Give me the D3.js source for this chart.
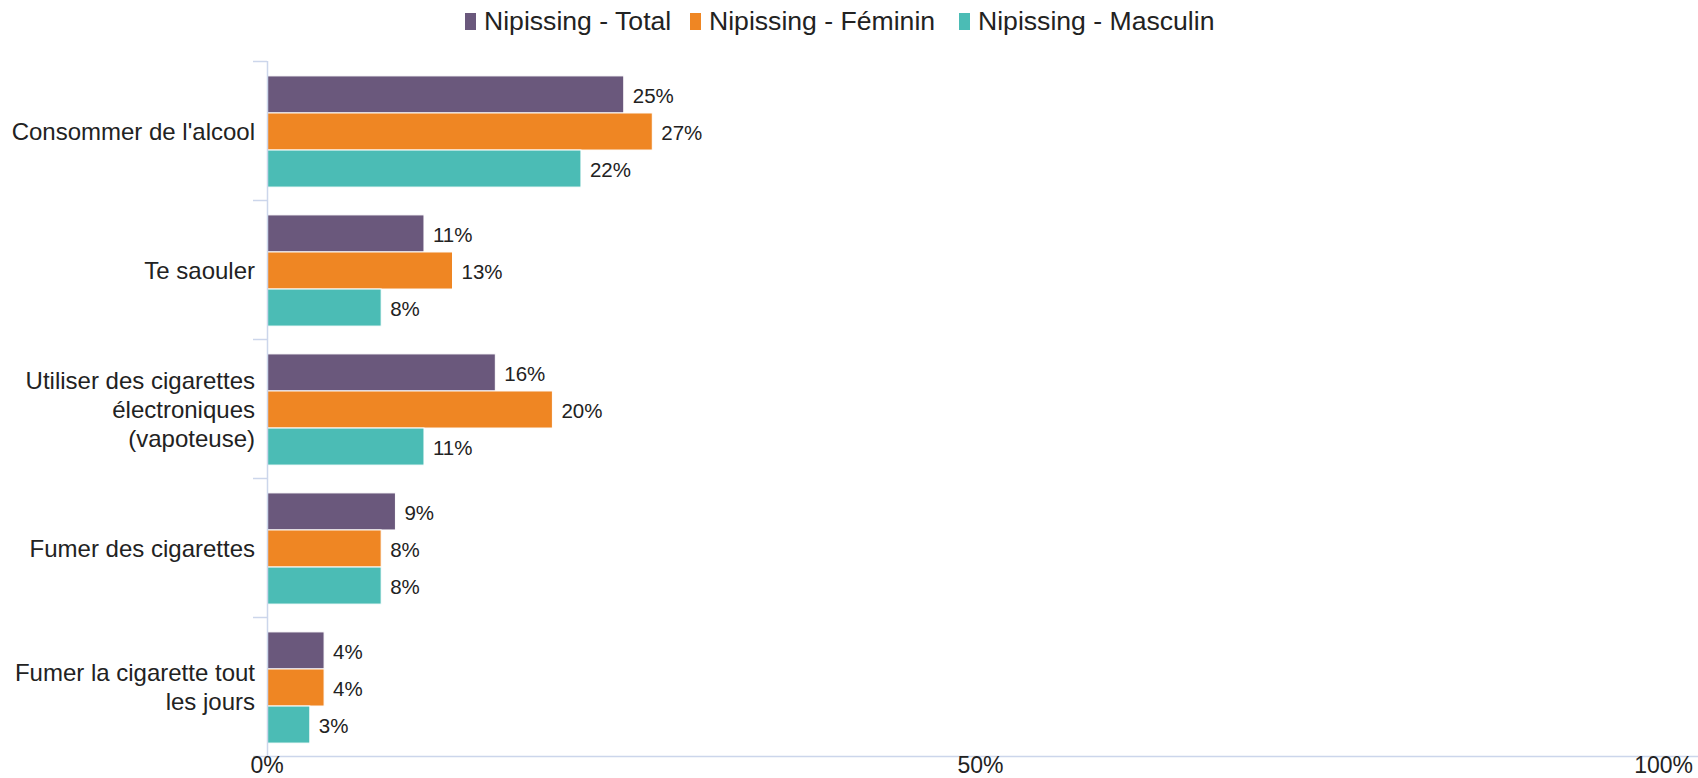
<!DOCTYPE html>
<html>
<head>
<meta charset="utf-8">
<script src="https://cdn.jsdelivr.net/npm/d3@7"></script>
<style>
  html, body { margin: 0; padding: 0; background: #fff; }
  svg { display: block; font-family: "Liberation Sans", Arial, sans-serif; }
</style>
</head>
<body>
<svg id="chart" width="1698" height="778"></svg>
<script>
const categories = [
  ["Consommer de l'alcool"],
  ["Te saouler"],
  ["Utiliser des cigarettes", "électroniques", "(vapoteuse)"],
  ["Fumer des cigarettes"],
  ["Fumer la cigarette tout", "les jours"]
];
const seriesNames = ["Nipissing - Total", "Nipissing - Féminin", "Nipissing - Masculin"];
const seriesColors = ["#6a587c", "#ef8623", "#4bbcb5"];
const totalValues = [25, 11, 16, 9, 4];
const femininValues = [27, 13, 20, 8, 4];
const masculinValues = [22, 8, 11, 8, 3];
const xTicks = [0, 50, 100];
const xTickLabels = ["0%", "50%", "100%"];

const seriesValues = [totalValues, femininValues, masculinValues];

const svg = d3.select("#chart");
const plotLeft = 267, plotRight = 1694, plotTop = 61, plotBottom = 756;
const axisColor = "#ccd6eb";
const textColor = "#222";

const x = d3.scaleLinear().domain([0, 100]).range([plotLeft, plotRight]);
const y = d3.scaleBand().domain(d3.range(categories.length)).range([plotTop, plotBottom]).paddingInner(0).paddingOuter(0);
const inner = d3.scaleBand().domain(d3.range(seriesNames.length))
  .range([y.bandwidth() * 0.1, y.bandwidth() * 0.9]).paddingInner(0).paddingOuter(0);

// Category ticks
const tickYs = d3.range(categories.length + 1).map(i => plotTop + i * y.bandwidth());
svg.append("g").selectAll("line").data(tickYs.slice(0, -1)).join("line")
  .attr("x1", plotLeft - 14).attr("x2", plotLeft)
  .attr("y1", d => Math.round(d) + 0.5).attr("y2", d => Math.round(d) + 0.5)
  .attr("stroke", axisColor).attr("stroke-width", 1.5);

// Bars
const g = svg.append("g");
seriesValues.forEach((vals, si) => {
  g.append("g").selectAll("rect").data(vals).join("rect")
    .attr("x", x(0))
    .attr("y", (d, i) => y(i) + inner(si) + 1)
    .attr("width", d => x(d) - x(0))
    .attr("height", inner.bandwidth())
    .attr("fill", seriesColors[si])
    .attr("stroke", "#ffffff")
    .attr("stroke-width", 1);
  g.append("g").selectAll("text").data(vals).join("text")
    .attr("x", d => x(d) + 9)
    .attr("y", (d, i) => y(i) + inner(si) + inner.bandwidth() / 2 + 4)
    .attr("dominant-baseline", "middle")
    .attr("font-size", 20.5)
    .attr("fill", textColor)
    .text(d => Math.round(d) + "%");
});

// Vertical axis line
svg.append("line")
  .attr("x1", plotLeft + 0.5).attr("x2", plotLeft + 0.5)
  .attr("y1", plotTop).attr("y2", plotBottom)
  .attr("stroke", axisColor).attr("stroke-width", 1.5);

// Bottom axis line
svg.append("line")
  .attr("x1", plotLeft - 14).attr("x2", 1698)
  .attr("y1", plotBottom + 0.5).attr("y2", plotBottom + 0.5)
  .attr("stroke", axisColor).attr("stroke-width", 1.5);

// Category labels
const catG = svg.append("g");
categories.forEach((lines, i) => {
  const cy = y(i) + y.bandwidth() / 2 + 3;
  const lh = 29;
  const t = catG.append("text")
    .attr("text-anchor", "end")
    .attr("font-size", 24)
    .attr("fill", textColor);
  lines.forEach((ln, j) => {
    t.append("tspan")
      .attr("x", plotLeft - 12)
      .attr("y", cy + (j - (lines.length - 1) / 2) * lh)
      .attr("dominant-baseline", "middle")
      .text(ln);
  });
});

// X axis labels
svg.append("g").selectAll("text").data(xTicks).join("text")
  .attr("x", (d, i) => i === xTicks.length - 1 ? 1693 : x(d))
  .attr("y", 773)
  .attr("text-anchor", (d, i) => i === xTicks.length - 1 ? "end" : "middle")
  .attr("font-size", 23)
  .attr("fill", textColor)
  .text((d, i) => xTickLabels[i]);

// Legend
const legendX = [465, 690, 959];
const leg = svg.append("g");
seriesNames.forEach((name, i) => {
  leg.append("rect")
    .attr("x", legendX[i]).attr("y", 13)
    .attr("width", 11).attr("height", 17)
    .attr("fill", seriesColors[i]);
  leg.append("text")
    .attr("x", legendX[i] + 19).attr("y", 30)
    .attr("font-size", 26.6)
    .attr("fill", textColor)
    .text(name);
});
</script>
</body>
</html>
